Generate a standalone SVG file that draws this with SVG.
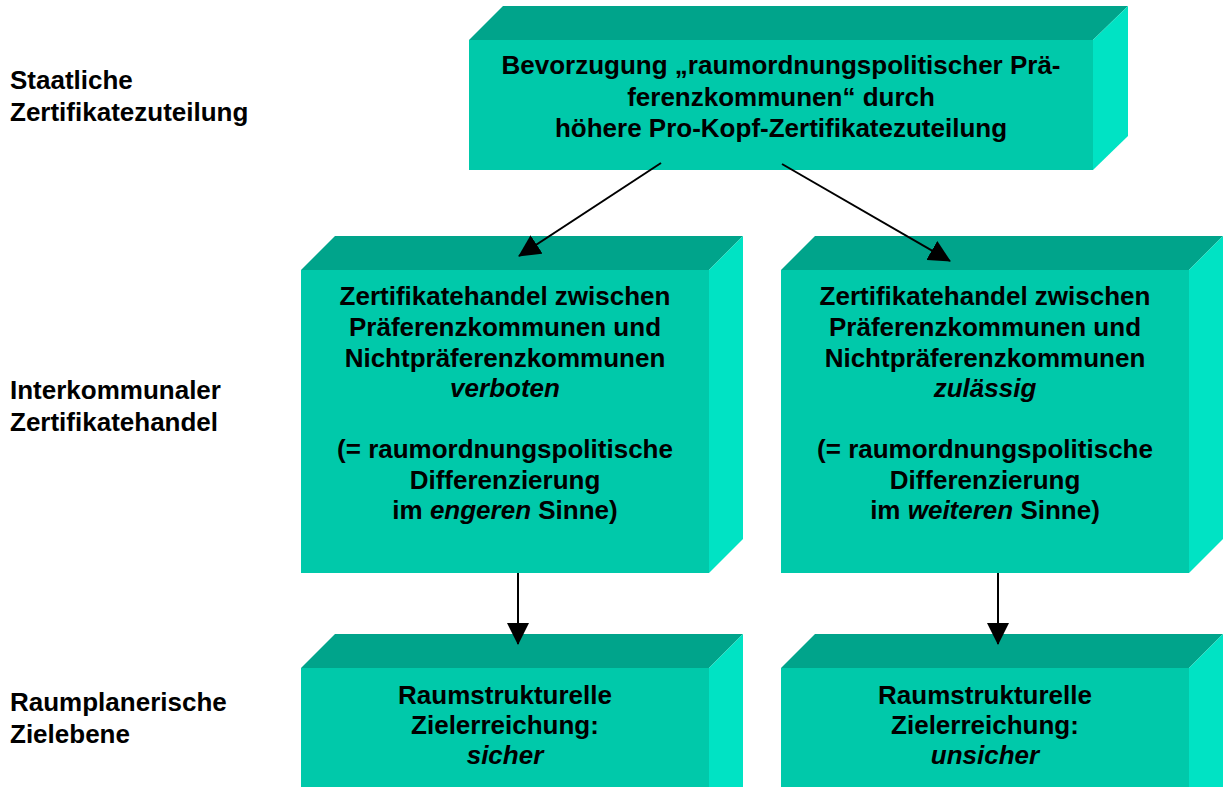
<svg xmlns="http://www.w3.org/2000/svg" width="1223" height="787" viewBox="0 0 1223 787">
<style>
  .front { fill: #00C9AA; }
  .top { fill: #00A48B; }
  .side { fill: #00E3C4; }
  text { font-family: "Liberation Sans", Arial, sans-serif; font-weight: bold; font-size: 26px; fill: #000; }
  .c { text-anchor: middle; }
  .i { font-style: italic; }
  .conn { stroke: #000; stroke-width: 2; fill: none; }
</style>
<defs>
  <marker id="arr" viewBox="0 0 22 22" refX="21" refY="11" markerWidth="22" markerHeight="22" markerUnits="userSpaceOnUse" orient="auto">
    <path d="M0,0 L22,11 L0,22 Z" fill="#000"/>
  </marker>
</defs>
<rect width="1223" height="787" fill="#fff"/>

<g id="labels">
  <text x="10" y="89">Staatliche</text>
  <text x="10" y="121">Zertifikatezuteilung</text>
  <text x="10" y="399">Interkommunaler</text>
  <text x="10" y="431">Zertifikatehandel</text>
  <text x="10" y="711">Raumplanerische</text>
  <text x="10" y="743">Zielebene</text>
</g>

<g id="node-top">
  <polygon class="top" points="469,40 503,6 1128,6 1093,40"/>
  <polygon class="side" points="1093,40 1128,6 1128,136 1093,170"/>
  <rect class="front" x="469" y="40" width="624" height="130"/>
  <text class="c" x="781" y="74">Bevorzugung „raumordnungspolitischer Prä-</text>
  <text class="c" x="781" y="105.5">ferenzkommunen“ durch</text>
  <text class="c" x="781" y="137">höhere Pro-Kopf-Zertifikatezuteilung</text>
</g>

<g id="node-mid-left">
  <polygon class="top" points="301,270 335,236 743,236 709,270"/>
  <polygon class="side" points="709,270 743,236 743,539 709,573"/>
  <rect class="front" x="301" y="270" width="408" height="303"/>
  <text class="c" x="505" y="305">Zertifikatehandel zwischen</text>
  <text class="c" x="505" y="335.5">Präferenzkommunen und</text>
  <text class="c" x="505" y="366.5">Nichtpräferenzkommunen</text>
  <text class="c i" x="505" y="397">verboten</text>
  <text class="c" x="505" y="458">(= raumordnungspolitische</text>
  <text class="c" x="505" y="488.5">Differenzierung</text>
  <text class="c" x="505" y="519">im <tspan class="i">engeren</tspan> Sinne)</text>
</g>

<g id="node-mid-right">
  <polygon class="top" points="781,270 815,236 1223,236 1189,270"/>
  <polygon class="side" points="1189,270 1223,236 1223,539 1189,573"/>
  <rect class="front" x="781" y="270" width="408" height="303"/>
  <text class="c" x="985" y="305">Zertifikatehandel zwischen</text>
  <text class="c" x="985" y="335.5">Präferenzkommunen und</text>
  <text class="c" x="985" y="366.5">Nichtpräferenzkommunen</text>
  <text class="c i" x="985" y="397">zulässig</text>
  <text class="c" x="985" y="458">(= raumordnungspolitische</text>
  <text class="c" x="985" y="488.5">Differenzierung</text>
  <text class="c" x="985" y="519">im <tspan class="i">weiteren</tspan> Sinne)</text>
</g>

<g id="node-bottom-left">
  <polygon class="top" points="301,668 335,634 743,634 709,668"/>
  <polygon class="side" points="709,668 743,634 743,787 709,800"/>
  <rect class="front" x="301" y="668" width="408" height="130"/>
  <text class="c" x="505" y="704">Raumstrukturelle</text>
  <text class="c" x="505" y="734">Zielerreichung:</text>
  <text class="c i" x="505" y="764">sicher</text>
</g>

<g id="node-bottom-right">
  <polygon class="top" points="781,668 815,634 1223,634 1189,668"/>
  <polygon class="side" points="1189,668 1223,634 1223,787 1189,800"/>
  <rect class="front" x="781" y="668" width="408" height="130"/>
  <text class="c" x="985" y="704">Raumstrukturelle</text>
  <text class="c" x="985" y="734">Zielerreichung:</text>
  <text class="c i" x="985" y="764">unsicher</text>
</g>

<g id="connectors">
  <line class="conn" x1="661" y1="163" x2="519" y2="256" marker-end="url(#arr)"/>
  <line class="conn" x1="782" y1="164" x2="950" y2="261" marker-end="url(#arr)"/>
  <line class="conn" x1="518" y1="573" x2="518" y2="644" marker-end="url(#arr)"/>
  <line class="conn" x1="998" y1="573" x2="998" y2="644" marker-end="url(#arr)"/>
</g>
</svg>
